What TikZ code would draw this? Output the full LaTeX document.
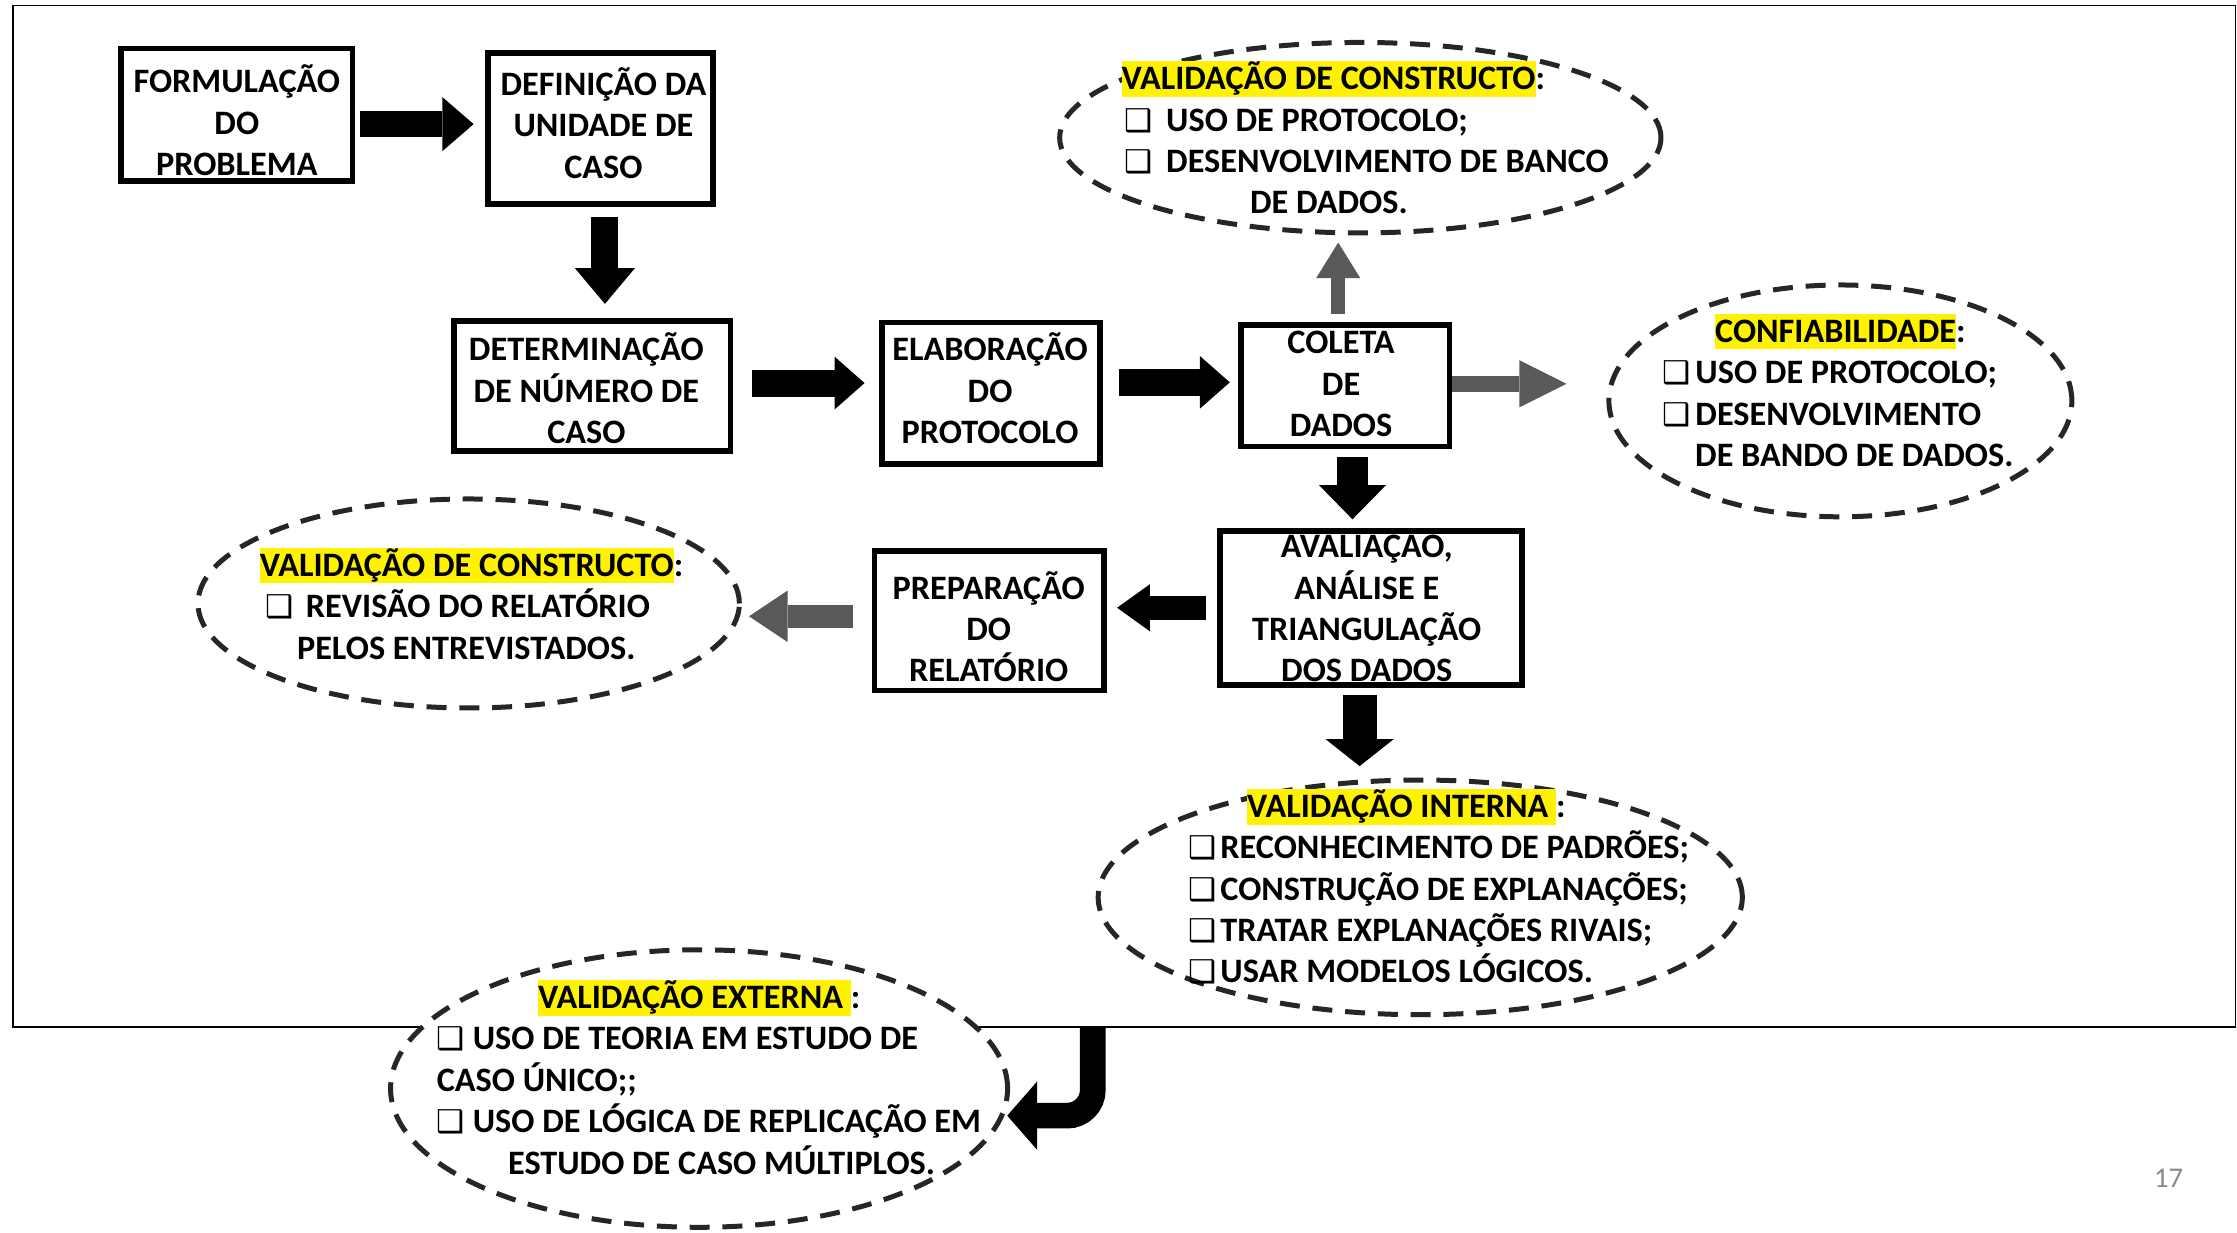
\documentclass[tikz,border=0pt]{standalone}
\usepackage{fontspec}
\setmainfont{Carlito}
\newfontfamily\dejavu{DejaVu Sans}
\usetikzlibrary{arrows.meta,shapes.geometric,calc}
\definecolor{arrowgray}{HTML}{595959}
\definecolor{dashgray}{HTML}{262626}
\definecolor{pagegray}{HTML}{898989}
\newcommand{\hl}[1]{{\setlength{\fboxsep}{0pt}\colorbox{yellow}{\rule[-5pt]{0pt}{25pt}#1}}}
\newcommand{\bx}{{\dejavu\bfseries\fontsize{22}{29}\selectfont ❑}}
\newcommand{\st}{\rule{0pt}{20pt}}
\begin{document}
\begin{tikzpicture}[x=1pt,y=-1pt,
  box/.style={draw, rectangle, line width=4pt, inner sep=0pt},
  btxt/.style={inner sep=0pt, align=center, anchor=north, font=\bfseries\fontsize{24}{29}\selectfont},
  etxt/.style={inner sep=0pt, align=left, anchor=north west, font=\bfseries\fontsize{24}{29}\selectfont},
  oval/.style={ellipse, draw=dashgray, fill=white, line width=3.5pt, dash pattern=on 14pt off 9pt, inner sep=0pt},
  arr/.style args={#1/#2/#3/#4}{draw=#4, line width=#1pt, -{Triangle[width=#2pt,length=#3pt,line width=0pt]}},
]
\useasboundingbox (0,0) rectangle (1568,864);
% frame
\node[draw, line width=1pt, inner sep=0pt, outer sep=0pt, minimum width=1558pt, minimum height=716pt] (frame) at (788,362) {};
% ovals
\node[oval, minimum width=421.5pt, minimum height=133.5pt] (e1) at (953.5,96.5) {};
\node[oval, minimum width=324.5pt, minimum height=162.5pt] (e2) at (1290,281) {};
\node[oval, minimum width=379.5pt, minimum height=146.5pt] (e3) at (328.5,423) {};
\node[oval, minimum width=451.5pt, minimum height=164.5pt] (e4) at (995.5,629) {};
\node[oval, minimum width=432.5pt, minimum height=194.5pt] (e5) at (490,763) {};
% boxes
\node[box, minimum width=162pt, minimum height=93pt] (b1) at (166,80.5) {};
\node[box, minimum width=158pt, minimum height=106pt] (b2) at (421,90) {};
\node[box, minimum width=194pt, minimum height=91pt] (b3) at (415,270.5) {};
\node[box, minimum width=153pt, minimum height=99pt] (b4) at (694.5,275.5) {};
\node[box, minimum width=146pt, minimum height=85pt] (b5) at (943,270.5) {};
\node[box, minimum width=212pt, minimum height=108pt] (b6) at (961,426) {};
\node[box, minimum width=161pt, minimum height=98pt] (b7) at (693.5,435) {};
% box texts
\node[btxt] (b1t) at (166,44.75) {\st FORMULAÇÃO\\DO\\PROBLEMA};
\node[btxt] (b2t) at (423,46.75) {\st DEFINIÇÃO DA\\UNIDADE DE\\CASO};
\node[btxt] (b3t) at (411,232.75) {\st DETERMINAÇÃO\\DE NÚMERO DE\\CASO};
\node[btxt] (b4t) at (694,232.75) {\st ELABORAÇÃO\\DO\\PROTOCOLO};
\node[btxt] (b5t) at (940,227.75) {\st COLETA\\DE\\DADOS};
\node[btxt] (b6t) at (958,370.75) {\st AVALIAÇAO,\\ANÁLISE E\\TRIANGULAÇÃO\\DOS DADOS};
\node[btxt] (b7t) at (693,399.75) {\st PREPARAÇÃO\\DO\\RELATÓRIO};
% oval texts
\node[etxt] (e1t) at (786,42.75) {\hl{VALIDAÇÃO DE CONSTRUCTO}:\\
\hspace*{2pt}\bx\hspace{9.5pt}USO DE PROTOCOLO;\\
\hspace*{2pt}\bx\hspace{9.5pt}DESENVOLVIMENTO DE BANCO\\
\hspace*{90pt}DE DADOS.};
\node[etxt] (e2t) at (1165,219.75) {\hspace*{37pt}\hl{CONFIABILIDADE}:\\
\bx\hspace{3.5pt}USO DE PROTOCOLO;\\
\bx\hspace{3.5pt}DESENVOLVIMENTO\\
\hspace*{23pt}DE BANDO DE DADOS.};
\node[etxt] (e3t) at (182,383.75) {\hl{VALIDAÇÃO DE CONSTRUCTO}:\\
\hspace*{4pt}\bx\hspace{8.5pt}REVISÃO DO RELATÓRIO\\
\hspace*{26pt}PELOS ENTREVISTADOS.};
\node[etxt] (e4t) at (833,552.75) {\hspace*{41pt}\hl{VALIDAÇÃO INTERNA\ }:\\
\bx\hspace{2.5pt}RECONHECIMENTO DE PADRÕES;\\
\bx\hspace{2.5pt}CONSTRUÇÃO DE EXPLANAÇÕES;\\
\bx\hspace{2.5pt}TRATAR EXPLANAÇÕES RIVAIS;\\
\bx\hspace{2.5pt}USAR MODELOS LÓGICOS.};
\node[etxt] (e5t) at (306,686.75) {\hspace*{71pt}\hl{VALIDAÇÃO EXTERNA\ }:\\
\bx\hspace{5.5pt}USO DE TEORIA EM ESTUDO DE\\
CASO ÚNICO;;\\
\bx\hspace{5.5pt}USO DE LÓGICA DE REPLICAÇÃO EM\\
\hspace*{50pt}ESTUDO DE CASO MÚLTIPLOS.};
% arrows
\draw[arr=18/38/22/black] ([shift={(3,6.5)}]b1.east) -- ([shift={(-8,-3)}]b2.west);
\draw[arr=19/42/25/black] ([shift={(3,7)}]b2.south) -- ([shift={(9,-10)}]b3.north);
\draw[arr=19/37/21/black] ([shift={(13,-2)}]b3.east) -- ([shift={(-10,-7)}]b4.west);
\draw[arr=19/37/21/black] ([shift={(11,-7.5)}]b4.east) -- ([shift={(-6,-2.5)}]b5.west);
\draw[arr=10/31/25/arrowgray] ([shift={(-5,-6)}]b5.north) -- ([shift={(-15.5,5)}]e1.south);
\draw[arr=11/33/33/arrowgray] ([shift={(0,-1.5)}]b5.east) -- ([shift={(-28,-12)}]e2.west);
\draw[arr=22/47/24/black] ([shift={(5,5)}]b5.south) -- ([shift={(-13,-6)}]b6.north);
\draw[arr=17/33/23/black] ([shift={(-8,0)}]b6.west) -- ([shift={(7,-9)}]b7.east);
\draw[arr=16/36/27/arrowgray] ([shift={(-13,-3)}]b7.west) -- ([shift={(5,9)}]e3.east);
\draw[arr=24/48/19/black] ([shift={(-8,5)}]b6.south) -- ([shift={(-42.5,-8)}]e4.north);
\coordinate (cs) at (766,720);
\draw[arr=18/48/21/black, rounded corners=18pt] (cs) |- ([shift={(-2,19)}]e5.east);
% page number
\node[inner sep=0pt, text=pagegray, font=\fontsize{20}{24}\selectfont] (pg) at (1520,826) {17};
\end{tikzpicture}
\end{document}
